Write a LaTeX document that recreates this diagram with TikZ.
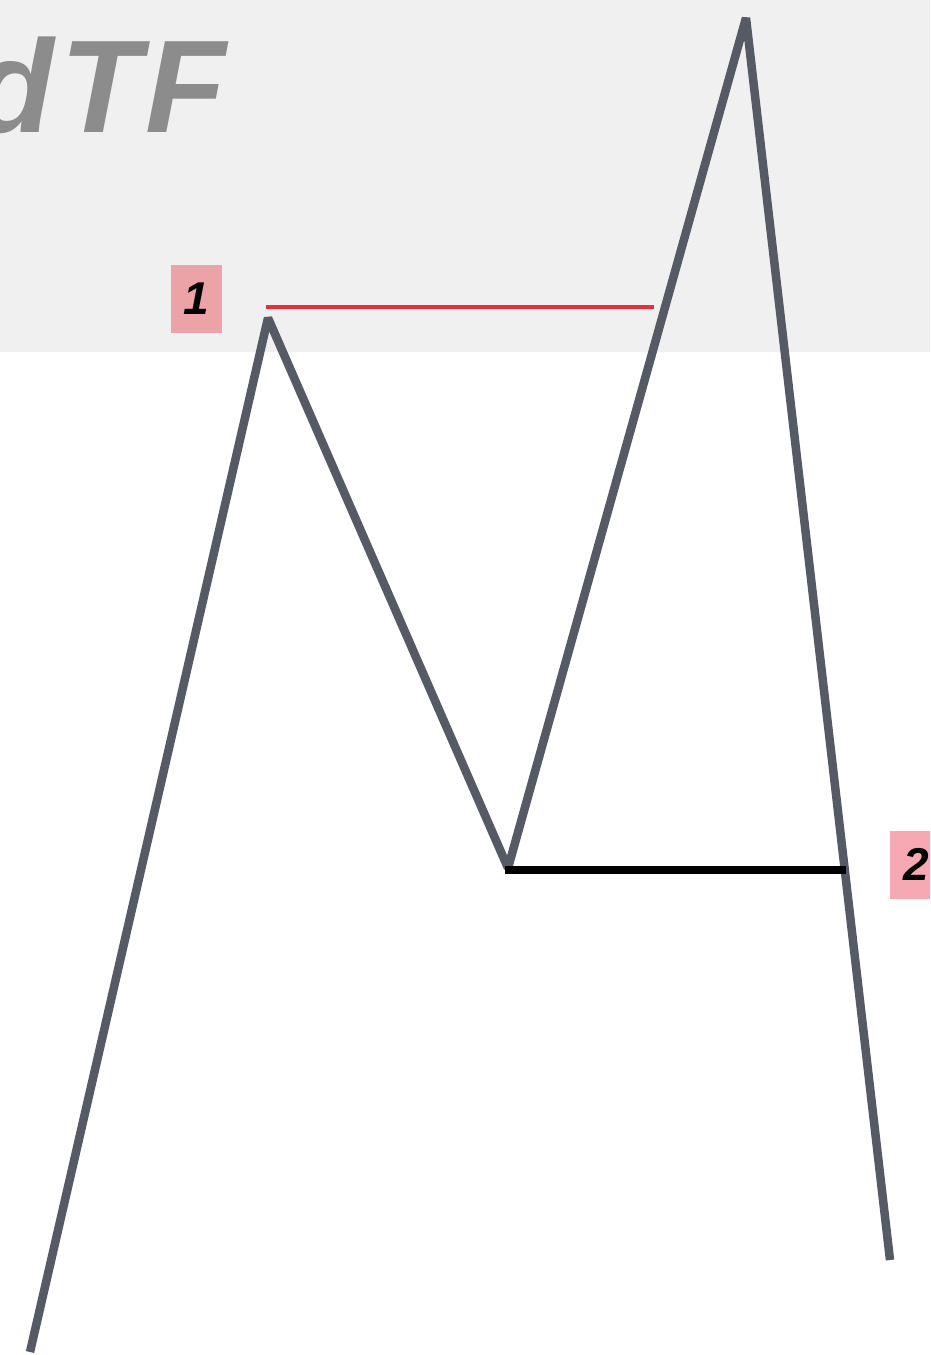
\documentclass[tikz,border=0pt]{standalone}
\usepackage{fontspec}
\setmainfont{Liberation Sans}
\definecolor{band}{HTML}{F0F0F0}
\definecolor{wm}{HTML}{8C8C8C}
\definecolor{zz}{HTML}{555A64}
\definecolor{redl}{HTML}{E3303C}
\definecolor{pinka}{HTML}{EBA3A8}
\definecolor{pinkb}{HTML}{F6A8B3}
\begin{document}
\begin{tikzpicture}[x=1pt,y=-1pt,
  zig/.style={draw=zz,line width=8.5pt,line join=bevel},
  tag/.style={inner sep=0pt,minimum width=51pt,minimum height=68pt,font=\fontsize{46}{46}\selectfont\bfseries\itshape}]
\useasboundingbox (0,0) rectangle (930,1355);
\clip (0,0) rectangle (930,1355);
\fill[band] (0,0) rectangle (930,352);
\node[anchor=base east,text=wm,inner sep=0pt,font=\fontsize{132}{132}\selectfont\bfseries\itshape] (wm) at (226,132) {d\kern6pt T\kern4pt F};
\coordinate (p0) at (30,1352);
\coordinate (p1) at (268,318);
\coordinate (p2) at (508,868);
\coordinate (p3) at (746,18);
\coordinate (p4) at (890,1260);
\draw[zig] (p0) -- (p1) -- (p2) -- (p3) -- (p4);
\coordinate (r0) at (266,307);
\coordinate (r1) at (654,307);
\draw[redl,line width=4pt] (r0) -- (r1);
\coordinate (b0) at (505,870);
\coordinate (b1) at (846,870);
\draw[black,line width=8pt] (b0) -- (b1);
\node[tag,fill=pinka] (t1) at (196.5,299) {1};
\node[tag,fill=pinkb,anchor=west] (t2) at (890,864.5) {\hspace*{2pt}2};
\end{tikzpicture}
\end{document}
